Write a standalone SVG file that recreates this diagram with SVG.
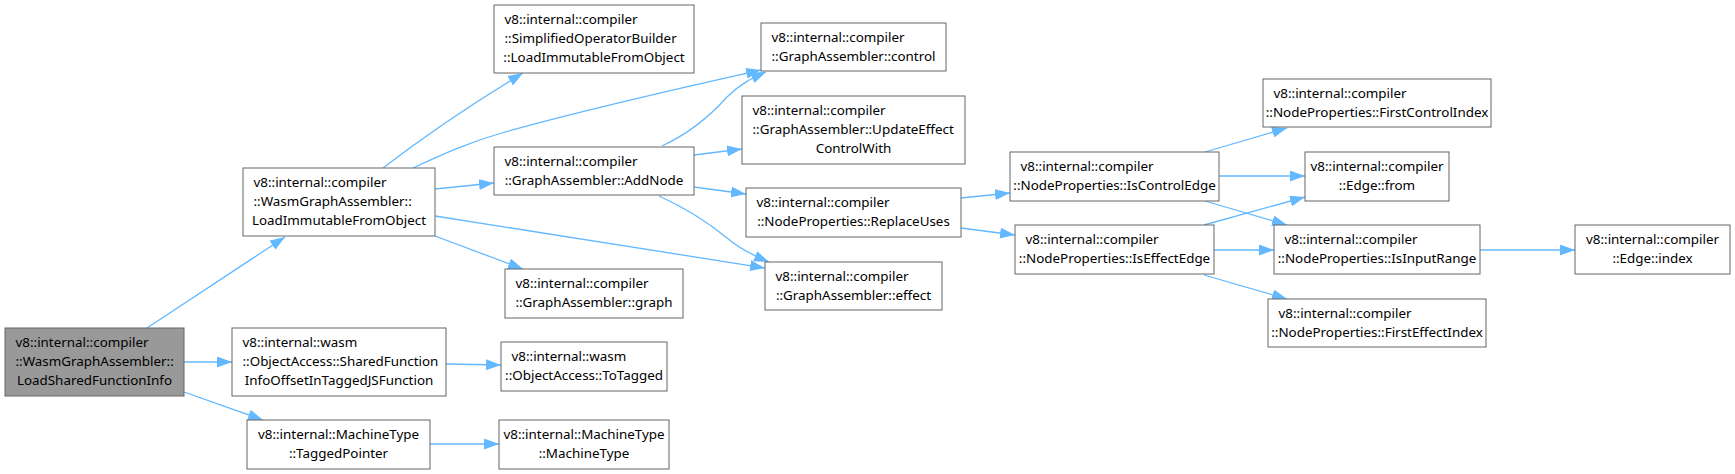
<svg xmlns="http://www.w3.org/2000/svg" width="1735" height="474" viewBox="0 0 1735 474">
<style>
.n rect{fill:#fff;stroke:#666;stroke-width:1}
.n.root rect{fill:#999}
.n text{font-family:"Noto Sans","DejaVu Sans",sans-serif;font-size:13.4px;fill:#000}
.n text.c{text-anchor:middle}
#edges path{fill:none;stroke:#63b8ff;stroke-width:1.3;marker-end:url(#arr)}
</style>
<defs>
<marker id="arr" markerUnits="userSpaceOnUse" markerWidth="15" markerHeight="11" refX="15" refY="5.5" orient="auto">
<path d="M0,0 L15,5.5 L0,11 z" fill="#63b8ff"/>
</marker>
</defs>
<g id="edges">
<path d="M147,328 L285,237"/>
<path d="M184,362 L232,362"/>
<path d="M184,392 L263,420"/>
<path d="M446,364 L501,365"/>
<path d="M430,444 L499,444"/>
<path d="M383,168 C405,151 450,117 523,73"/>
<path d="M413,168 C445,153 470,142 505,132 C590,108 690,86 761,70"/>
<path d="M435,189 L494,183"/>
<path d="M435,216 L765,268"/>
<path d="M435,236 L523,269"/>
<path d="M662,146 C690,133 710,116 727,97 C740,84 752,78 766,72"/>
<path d="M694,155 L742,149"/>
<path d="M694,187 L746,194"/>
<path d="M659,196 C690,210 710,224 727,238 C740,249 752,255 769,262"/>
<path d="M961,198 L1010,193"/>
<path d="M961,228 L1015,235"/>
<path d="M1205,152 L1287,128"/>
<path d="M1219,176 L1305,176"/>
<path d="M1205,201 L1287,225"/>
<path d="M1204,225 L1305,197"/>
<path d="M1214,250 L1274,250"/>
<path d="M1204,275 L1287,299"/>
<path d="M1480,250 L1575,250"/>
</g>
<g id="n0" class="n root"><rect x="5" y="328" width="179" height="68"/>
<text x="15.5" y="347">v8::internal::compiler</text><text x="15.5" y="366">::WasmGraphAssembler::</text><text class="c" x="94.5" y="385">LoadSharedFunctionInfo</text></g>
<g id="n1" class="n"><rect x="243" y="168" width="192" height="68"/>
<text x="253.5" y="187">v8::internal::compiler</text><text x="253.5" y="206">::WasmGraphAssembler::</text><text class="c" x="339" y="225">LoadImmutableFromObject</text></g>
<g id="n2" class="n"><rect x="232" y="328" width="214" height="68"/>
<text x="242.5" y="347">v8::internal::wasm</text><text x="242.5" y="366">::ObjectAccess::SharedFunction</text><text class="c" x="339" y="385">InfoOffsetInTaggedJSFunction</text></g>
<g id="n3" class="n"><rect x="247" y="420" width="183" height="49"/>
<text class="c" x="338.5" y="439">v8::internal::MachineType</text><text class="c" x="338.5" y="458">::TaggedPointer</text></g>
<g id="n4" class="n"><rect x="494" y="5" width="200" height="68"/>
<text x="504.5" y="24">v8::internal::compiler</text><text x="504.5" y="43">::SimplifiedOperatorBuilder</text><text class="c" x="594" y="62">::LoadImmutableFromObject</text></g>
<g id="n5" class="n"><rect x="761" y="23" width="185" height="48"/>
<text x="771.5" y="42">v8::internal::compiler</text><text class="c" x="853.5" y="61">::GraphAssembler::control</text></g>
<g id="n6" class="n"><rect x="742" y="96" width="223" height="68"/>
<text x="752.5" y="115">v8::internal::compiler</text><text x="752.5" y="134">::GraphAssembler::UpdateEffect</text><text class="c" x="853.5" y="153">ControlWith</text></g>
<g id="n7" class="n"><rect x="494" y="147" width="200" height="48"/>
<text x="504.5" y="166">v8::internal::compiler</text><text class="c" x="594" y="185">::GraphAssembler::AddNode</text></g>
<g id="n8" class="n"><rect x="746" y="188" width="215" height="49"/>
<text x="756.5" y="207">v8::internal::compiler</text><text class="c" x="853.5" y="226">::NodeProperties::ReplaceUses</text></g>
<g id="n9" class="n"><rect x="765" y="262" width="177" height="48"/>
<text x="775.5" y="281">v8::internal::compiler</text><text class="c" x="853.5" y="300">::GraphAssembler::effect</text></g>
<g id="n10" class="n"><rect x="505" y="269" width="178" height="49"/>
<text x="515.5" y="288">v8::internal::compiler</text><text class="c" x="594" y="307">::GraphAssembler::graph</text></g>
<g id="n11" class="n"><rect x="501" y="342" width="166" height="49"/>
<text x="511.5" y="361">v8::internal::wasm</text><text class="c" x="584" y="380">::ObjectAccess::ToTagged</text></g>
<g id="n12" class="n"><rect x="499" y="420" width="170" height="49"/>
<text class="c" x="584" y="439">v8::internal::MachineType</text><text class="c" x="584" y="458">::MachineType</text></g>
<g id="n13" class="n"><rect x="1010" y="152" width="209" height="49"/>
<text x="1020.5" y="171">v8::internal::compiler</text><text class="c" x="1114.5" y="190">::NodeProperties::IsControlEdge</text></g>
<g id="n14" class="n"><rect x="1015" y="225" width="199" height="49"/>
<text x="1025.5" y="244">v8::internal::compiler</text><text class="c" x="1114.5" y="263">::NodeProperties::IsEffectEdge</text></g>
<g id="n15" class="n"><rect x="1263" y="79" width="228" height="48"/>
<text x="1273.5" y="98">v8::internal::compiler</text><text class="c" x="1377" y="117">::NodeProperties::FirstControlIndex</text></g>
<g id="n16" class="n"><rect x="1305" y="152" width="144" height="49"/>
<text class="c" x="1377" y="171">v8::internal::compiler</text><text class="c" x="1377" y="190">::Edge::from</text></g>
<g id="n17" class="n"><rect x="1274" y="225" width="206" height="49"/>
<text x="1284.5" y="244">v8::internal::compiler</text><text class="c" x="1377" y="263">::NodeProperties::IsInputRange</text></g>
<g id="n18" class="n"><rect x="1268" y="299" width="218" height="48"/>
<text x="1278.5" y="318">v8::internal::compiler</text><text class="c" x="1377" y="337">::NodeProperties::FirstEffectIndex</text></g>
<g id="n19" class="n"><rect x="1575" y="225" width="155" height="49"/>
<text class="c" x="1652.5" y="244">v8::internal::compiler</text><text class="c" x="1652.5" y="263">::Edge::index</text></g>
</svg>
